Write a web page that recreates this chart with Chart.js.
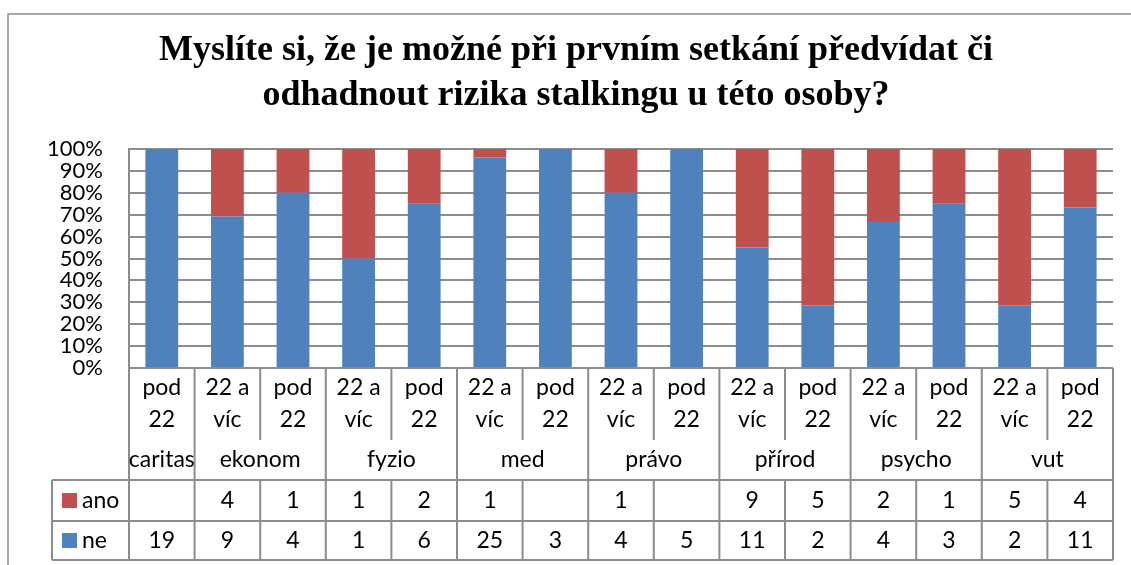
<!DOCTYPE html>
<html><head><meta charset="utf-8">
<script src="https://cdn.jsdelivr.net/npm/chart.js@4/dist/chart.umd.min.js"></script>
<style>html,body{margin:0;padding:0;background:#fff}#wrap{width:1131px;height:565px;position:relative}</style>
</head><body><div id="wrap"><canvas id="c" width="1131" height="565"></canvas></div>
<script>
const titleLines = ["Myslíte si, že je možné při prvním setkání předvídat či", "odhadnout rizika stalkingu u této osoby?"];
const subLabels = [["pod","22"],["22 a","víc"],["pod","22"],["22 a","víc"],["pod","22"],["22 a","víc"],["pod","22"],["22 a","víc"],["pod","22"],["22 a","víc"],["pod","22"],["22 a","víc"],["pod","22"],["22 a","víc"],["pod","22"]];
const groups = ["caritas","ekonom","fyzio","med","právo","přírod","psycho","vut"];
const groupSizes = [1,2,2,2,2,2,2,2];
const anoCounts = [null,4,1,1,2,1,null,1,null,9,5,2,1,5,4];
const neCounts  = [19,9,4,1,6,25,3,4,5,11,2,4,3,2,11];
const seriesNames = ["ano","ne"];
const yMax = 100, yStep = 10;

const RED = '#C0504D', BLUE = '#4F81BD', GRID = '#8c8c8c';
const FONT = 'Lato, "Open Sans", sans-serif';

function pct(a, b, i){ const t = (a[i]||0)+(b[i]||0); return t ? (a[i]||0)/t*100 : 0; }
const nePct = neCounts.map((v,i)=> v==null?null:pct(neCounts, anoCounts, i));
const anoPct = anoCounts.map((v,i)=> v==null?null:pct(anoCounts, neCounts, i));

const TABLE = { row1: 72, row2: 40, row3: 41, row4: 39, legendLeft: 52 };

const tablePlugin = {
  id: 'tablePlugin',
  afterDraw(chart){
    const ctx = chart.ctx, ca = chart.chartArea, xs = chart.scales.x;
    const n = subLabels.length, w = (ca.right - ca.left)/n;
    const y0 = ca.bottom, y1 = y0 + TABLE.row1, y2 = y1 + TABLE.row2, y3 = y2 + TABLE.row3, y4 = y3 + TABLE.row4;
    ctx.save();
    ctx.strokeStyle = GRID; ctx.lineWidth = 1.5;
    ctx.beginPath(); ctx.moveTo(8, 565); ctx.lineTo(8, 14); ctx.lineTo(1131, 14); ctx.stroke();
    ctx.fillStyle = '#000'; ctx.textAlign = 'center'; ctx.textBaseline = 'middle';
    ctx.font = 'bold 36px "Liberation Serif", "Times New Roman", serif';
    ctx.fillText(titleLines[0], 576, 51);
    ctx.fillText(titleLines[1], 576, 96);
    ctx.strokeStyle = GRID; ctx.lineWidth = 2;
    ctx.beginPath();
    ctx.moveTo(ca.left, y0); ctx.lineTo(ca.right, y0);
    ctx.moveTo(TABLE.legendLeft, y2); ctx.lineTo(ca.right, y2);
    ctx.moveTo(TABLE.legendLeft, y3); ctx.lineTo(ca.right, y3);
    ctx.moveTo(TABLE.legendLeft, y4); ctx.lineTo(ca.right, y4);
    ctx.moveTo(ca.left, y0); ctx.lineTo(ca.left, y4);
    ctx.moveTo(ca.right, y0); ctx.lineTo(ca.right, y4);
    ctx.moveTo(TABLE.legendLeft, y2); ctx.lineTo(TABLE.legendLeft, y4);
    const groupEdges = new Set(); let acc = 0;
    groupSizes.forEach(s => { acc += s; groupEdges.add(acc); });
    for (let i = 1; i < n; i++){
      const x = xs.getPixelForValue(i) - w/2;
      if (groupEdges.has(i)) { ctx.moveTo(x, y0); ctx.lineTo(x, y4); }
      else { ctx.moveTo(x, y0); ctx.lineTo(x, y1); ctx.moveTo(x, y2); ctx.lineTo(x, y4); }
    }
    ctx.stroke();
    ctx.fillStyle = '#000'; ctx.font = '23px ' + FONT; ctx.textAlign = 'center'; ctx.textBaseline = 'middle';
    for (let i = 0; i < n; i++){
      const cx = xs.getPixelForValue(i);
      ctx.fillText(subLabels[i][0], cx, y0 + 20);
      ctx.fillText(subLabels[i][1], cx, y0 + 52);
      if (anoCounts[i] != null) ctx.fillText(String(anoCounts[i]), cx, (y2+y3)/2);
      if (neCounts[i] != null) ctx.fillText(String(neCounts[i]), cx, (y3+y4)/2);
    }
    let start = 0;
    groups.forEach((g, k) => {
      const a = xs.getPixelForValue(start) - w/2, b = xs.getPixelForValue(start + groupSizes[k] - 1) + w/2;
      ctx.fillText(g, (a+b)/2, (y1+y2)/2);
      start += groupSizes[k];
    });
    const keys = [[seriesNames[0], RED, (y2+y3)/2], [seriesNames[1], BLUE, (y3+y4)/2]];
    keys.forEach(([name, col, cy]) => {
      ctx.fillStyle = col; ctx.fillRect(62, cy - 7.5, 15, 15);
      ctx.fillStyle = '#000'; ctx.textAlign = 'left'; ctx.fillText(name, 82, cy);
    });
    ctx.restore();
  }
};

new Chart(document.getElementById('c'), {
  type: 'bar',
  data: {
    labels: subLabels.map(l => l.join(' ')),
    datasets: [
      { label: seriesNames[1], data: nePct, backgroundColor: BLUE, stack: 's' },
      { label: seriesNames[0], data: anoPct, backgroundColor: RED, stack: 's' }
    ]
  },
  options: {
    responsive: false, animation: false,
    layout: { padding: { top: 149, bottom: 197, right: 18, left: 0 } },
    datasets: { bar: { categoryPercentage: 1, barPercentage: 0.5 } },
    plugins: { legend: { display: false }, title: { display: false }, tooltip: { enabled: false } },
    scales: {
      x: { stacked: true, display: false },
      y: {
        stacked: true, min: 0, max: yMax,
        afterFit(s){ s.width = 129; },
        border: { display: true, color: GRID, width: 2 },
        grid: { color: GRID, lineWidth: 2, drawTicks: false },
        ticks: { stepSize: yStep, autoSkip: false, padding: 26, color: '#000',
          font: { family: FONT, size: 22, lineHeight: 1 }, callback: v => v + '%' }
      }
    }
  },
  plugins: [tablePlugin]
});
</script>
</body></html>
